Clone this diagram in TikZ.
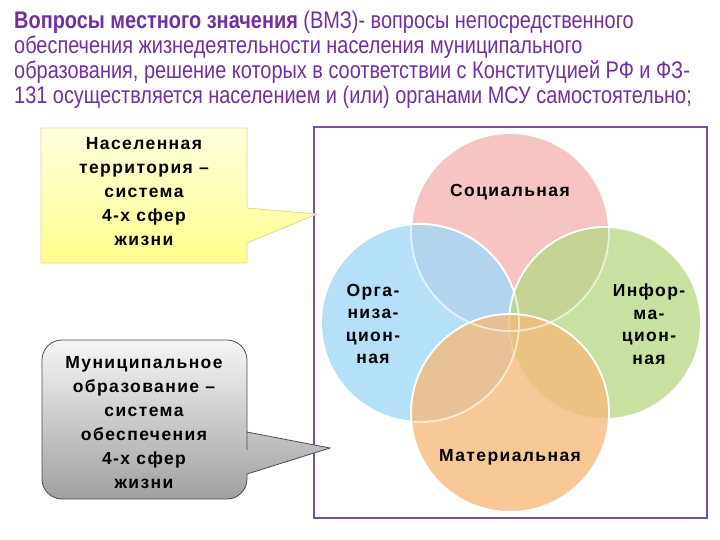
\documentclass[tikz,border=0pt]{standalone}
\usepackage{fontspec}
\setmainfont{Liberation Sans}
\newfontfamily\narrowfont[FakeStretch=0.83]{Liberation Sans}
\newfontfamily\spacedfont[LetterSpace=8]{Liberation Sans}
\usetikzlibrary{positioning}

\definecolor{vmzpurple}{RGB}{112,48,160}
\definecolor{framepurple}{RGB}{120,80,160}
\definecolor{socpink}{RGB}{245,181,181}
\definecolor{orgblue}{RGB}{161,217,246}
\definecolor{infgreen}{RGB}{186,217,136}
\definecolor{matorange}{RGB}{246,186,124}
\definecolor{yellowtop}{RGB}{255,255,222}
\definecolor{yellowbot}{RGB}{255,255,140}
\definecolor{yellowedge}{RGB}{225,215,150}
\definecolor{greytop}{RGB}{246,246,246}
\definecolor{greybot}{RGB}{160,160,160}

\begin{document}
\begin{tikzpicture}[x=1pt,y=-1pt,
  sphere/.style={draw=white, line width=1.8pt, fill opacity=0.8},
  sphlabel/.style={font=\spacedfont\bfseries\fontsize{17.5}{22.5}\selectfont, align=center, inner sep=0pt},
  calltext/.style={font=\spacedfont\bfseries\fontsize{17.5}{24}\selectfont, align=center, inner sep=0pt}]
\useasboundingbox (0,0) rectangle (720,540);

% Definition text
\node[anchor=north west, align=left, inner sep=0pt, text=vmzpurple,
      font=\narrowfont\fontsize{24}{25}\selectfont] (vmz) at (14,11)
  {\textbf{Вопросы местного значения} (ВМЗ)- вопросы непосредственного\\
   обеспечения жизнедеятельности населения муниципального\\
   образования, решение которых в соответствии с Конституцией РФ и ФЗ-\\
   131 осуществляется населением и (или) органами МСУ самостоятельно;};

% Frame round the spheres
\draw[framepurple, line width=1.5pt] (314,127) rectangle (707,518);

% Four spheres of life
\fill[sphere, fill=socpink] (510,232) circle (99);
\fill[sphere, fill=orgblue] (420,323) circle (99);
\fill[sphere, fill=infgreen] (605,323) circle (96);
\fill[sphere, fill=matorange] (510,413) circle (99);
\draw[white, line width=1.8pt, opacity=0.6] (510,232) circle (99) (420,323) circle (99);

\node[sphlabel] (soc) at (510,192) {Социальная};
\node[sphlabel] (org) at (373,324) {Орга-\\низа-\\цион-\\ная};
\node[sphlabel] (inf) at (649,324) {Инфор-\\ма-\\цион-\\ная};
\node[sphlabel] (mat) at (510,457) {Материальная};

% Callout: territory
\coordinate (tipT) at (317,214);
\shade[top color=yellowtop, bottom color=yellowbot, draw=yellowedge, line width=0.8pt]
  (41,128) -- (247,128) -- (247,208) -- (tipT) -- (247,243) -- (247,263) -- (41,263) -- cycle;
\node[calltext] (terr) at (144,192) {Населенная\\территория –\\система\\4-х сфер\\жизни};

% Callout: municipality
\coordinate (tipM) at (330,448);
\shade[top color=greytop, bottom color=greybot, draw=black!70, line width=0.8pt, rounded corners=20pt]
  (42,340) -- (247,340) -- (247,430) [sharp corners] -- (247,432) -- (tipM) -- (247,474)
  [rounded corners=20pt] -- (247,499) -- (42,499) -- cycle;
\node[calltext] (mun) at (144,423) {Муниципальное\\образование –\\система\\обеспечения\\4-х сфер\\жизни};
\end{tikzpicture}
\end{document}
